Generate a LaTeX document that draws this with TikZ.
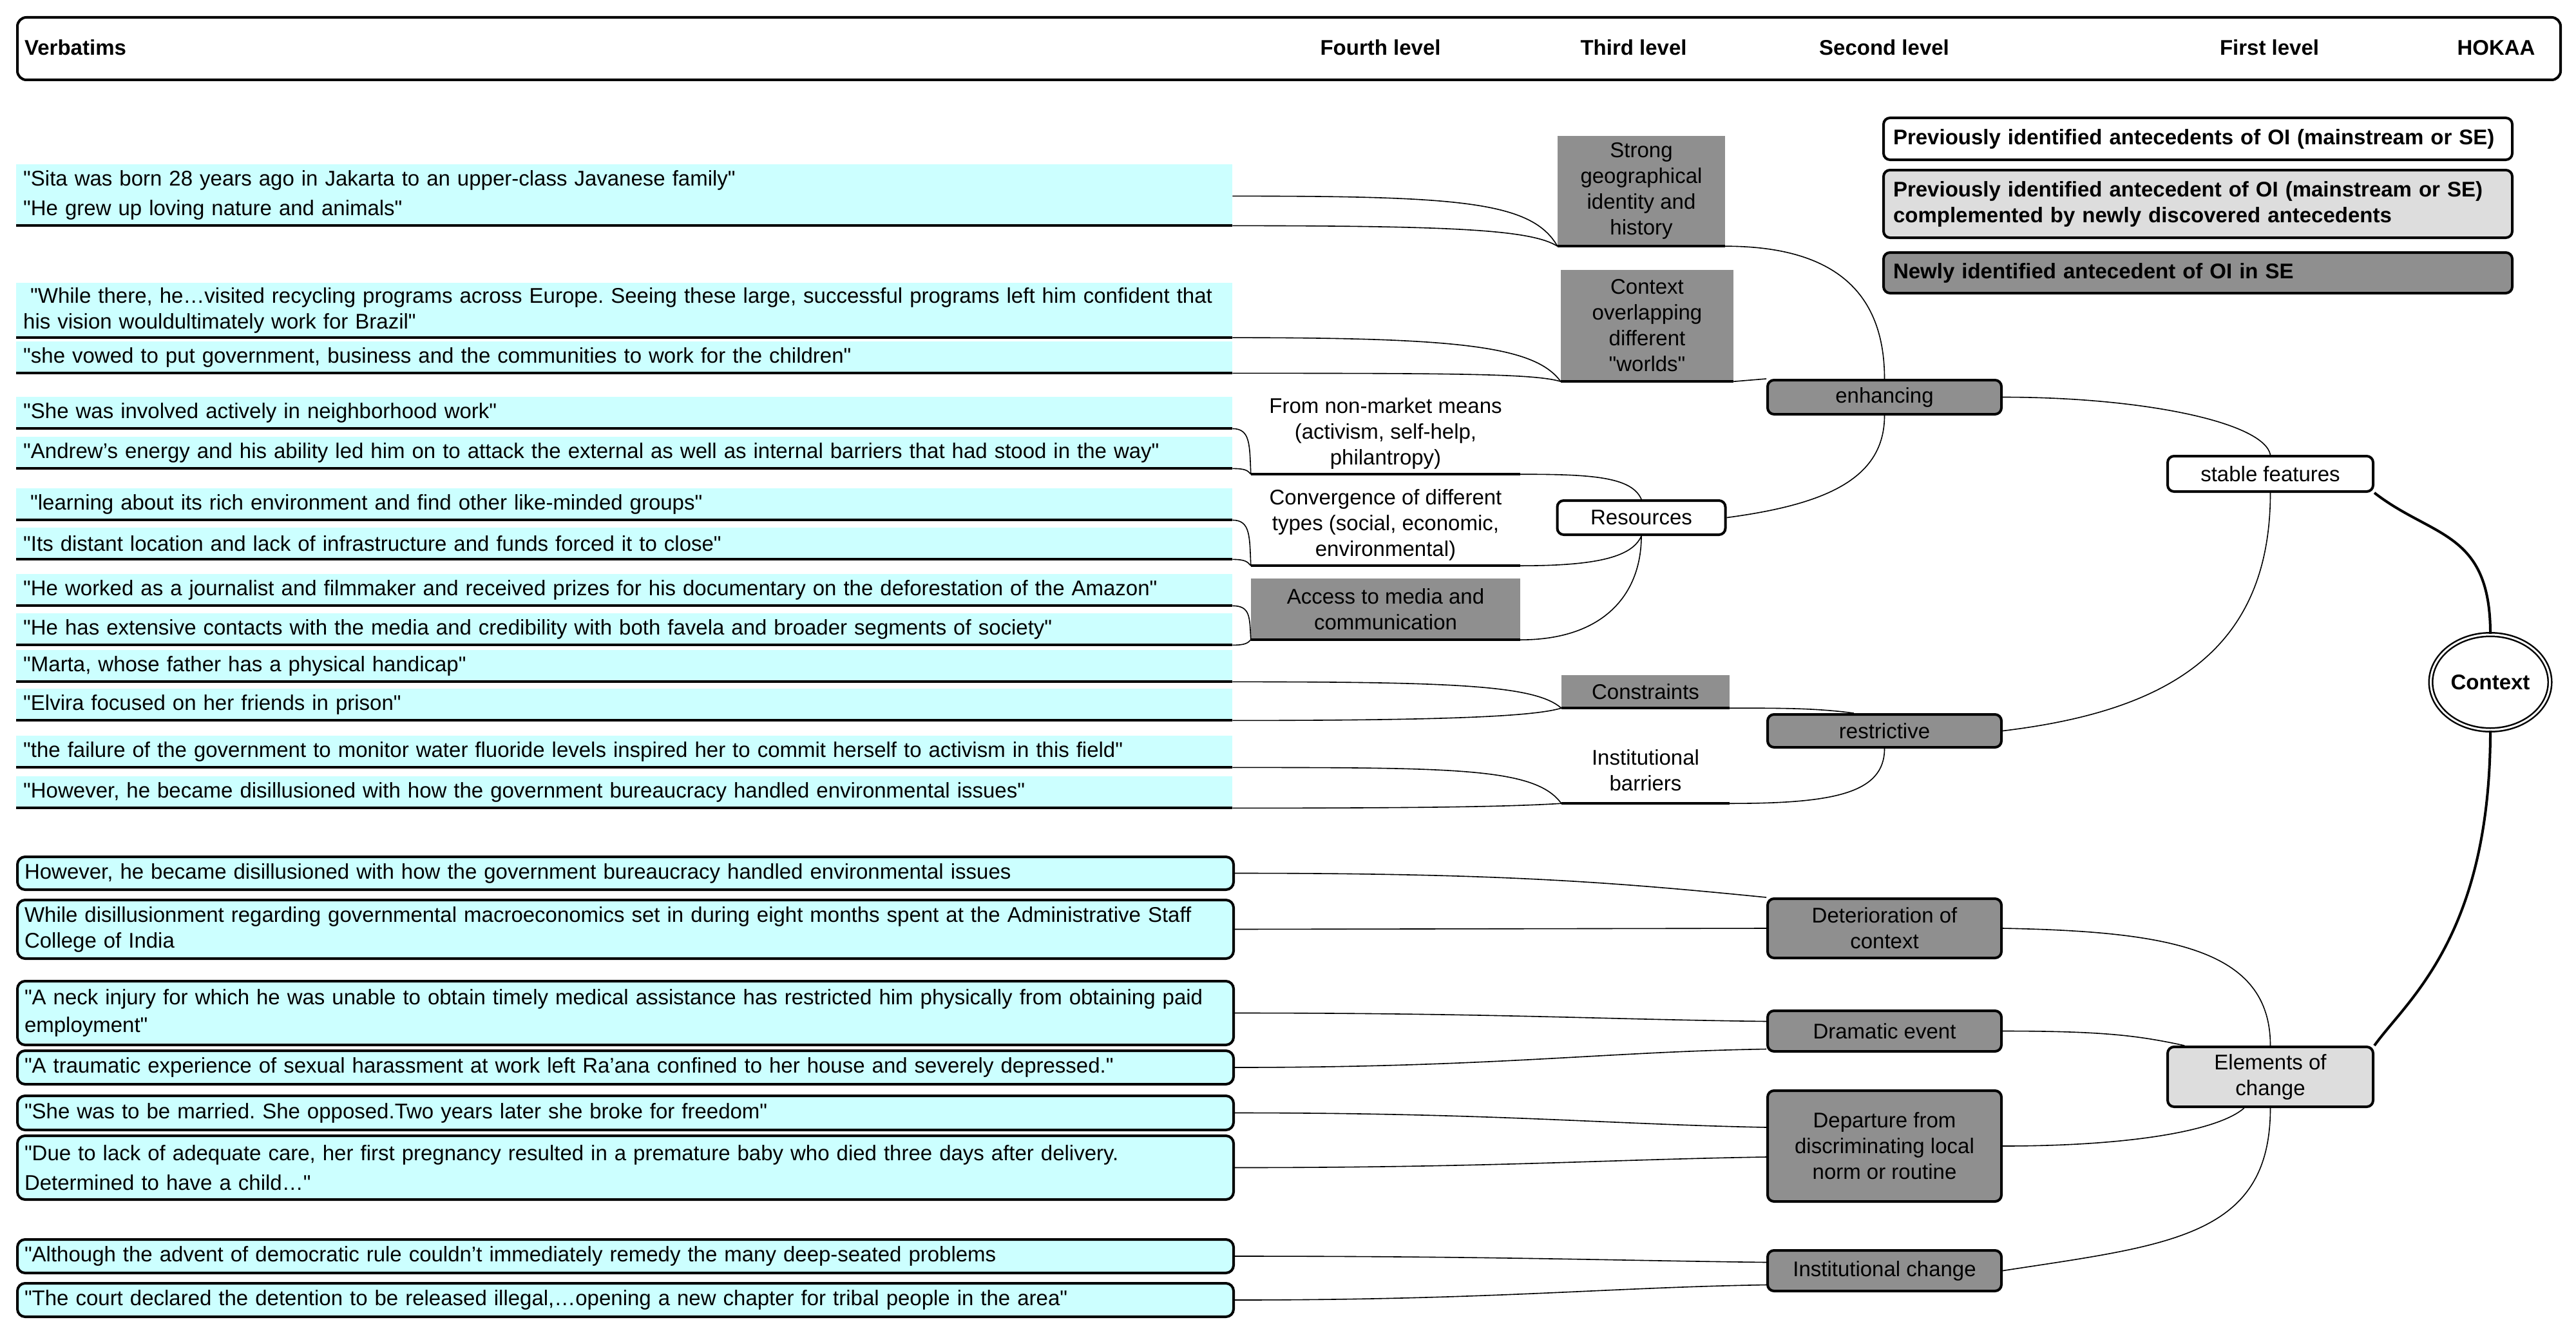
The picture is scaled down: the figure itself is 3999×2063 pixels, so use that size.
\documentclass[tikz,border=0pt]{standalone}
\usepackage{fontspec}
\setmainfont{Liberation Sans}[Ligatures=TeXOff]
\frenchspacing
\usetikzlibrary{positioning,shapes.geometric}
\definecolor{verbatimCyan}{RGB}{204,255,255}
\definecolor{newGray}{RGB}{143,143,143}
\definecolor{mixedGray}{RGB}{221,221,221}
\tikzstyle{mapText} = [font=\fontsize{33}{40}\selectfont]
\tikzstyle{mapBold} = [font=\fontsize{33}{40}\selectfont\bfseries]
\tikzstyle{underLine} = [line width=4pt]
\tikzstyle{linkLine} = [line width=1.6pt]
\tikzstyle{contextLine} = [line width=4pt]
\tikzstyle{forkStyle} = [mapText, fill=verbatimCyan, anchor=north west, text width=1866pt, inner xsep=11pt, inner ysep=7pt, minimum height=49pt, align=left]
\tikzstyle{bubbleStyle} = [forkStyle, draw, line width=4pt, rounded corners=12pt]
\tikzstyle{levelText} = [mapText, inner sep=0pt, align=center]
\tikzstyle{newBox} = [levelText, fill=newGray]
\tikzstyle{levelBubble} = [levelText, draw, line width=4pt, rounded corners=10pt]
\tikzstyle{keyBox} = [mapBold, draw, line width=4pt, rounded corners=10pt, anchor=north west, text width=946pt, inner xsep=15pt, inner ysep=0pt, align=left]
\newcommand{\forkVerbatim}[3]{\node[forkStyle] (#1) at (25,#2) {#3}; \draw[underLine] (#1.south west) -- (#1.south east);}
\newcommand{\bubbleVerbatim}[4]{\node[bubbleStyle, minimum height=#3] (#1) at (25,#2) {#4};}

\begin{document}
\begin{tikzpicture}[x=1pt, y=-1pt]
  \useasboundingbox (0,0) rectangle (3999,2063);

  % header row
  \node[draw, line width=4pt, rounded corners=14pt, anchor=north west, inner sep=0pt, minimum width=3948pt, minimum height=97pt] (header) at (25,25) {};
  \node[mapBold, anchor=west, inner sep=0pt] (hdVerbatims) at (38,74) {Verbatims};
  \node[mapBold, inner sep=0pt] (hdFourth) at (2143,74) {Fourth level};
  \node[mapBold, inner sep=0pt] (hdThird) at (2536,74) {Third level};
  \node[mapBold, inner sep=0pt] (hdSecond) at (2925,74) {Second level};
  \node[mapBold, inner sep=0pt] (hdFirst) at (3523,74) {First level};
  \node[mapBold, inner sep=0pt] (hdHokaa) at (3875,74) {HOKAA};

  % key
  \node[keyBox, minimum height=65pt] (keyOld) at (2922,181) {\mbox{Previously identified antecedents of OI (mainstream or SE)}};
  \node[keyBox, fill=mixedGray, minimum height=105pt] (keyMixed) at (2922,262) {\mbox{Previously identified antecedent of OI (mainstream or SE)}\\complemented by newly discovered antecedents};
  \node[keyBox, fill=newGray, minimum height=63pt] (keyNew) at (2922,390) {Newly identified antecedent of OI in SE};

  % verbatims, stable features
  \forkVerbatim{v1}{255}{"Sita was born 28 years ago in Jakarta to an upper-class Javanese family"}
  \forkVerbatim{v2}{301}{"He grew up loving nature and animals"}
  \forkVerbatim{v3}{439}{\mbox{~"While there, he…visited recycling programs across Europe. Seeing these large, successful programs left him confident that}\\his vision wouldultimately work for Brazil"}
  \forkVerbatim{v4}{530}{"she vowed to put government, business and the communities to work for the children"}
  \forkVerbatim{v5}{616}{"She was involved actively in neighborhood work"}
  \forkVerbatim{v6}{678}{"Andrew’s energy and his ability led him on to attack the external as well as internal barriers that had stood in the way"}
  \forkVerbatim{v7}{758}{~"learning about its rich environment and find other like-minded groups"}
  \forkVerbatim{v8}{819}{"Its distant location and lack of infrastructure and funds forced it to close"}
  \forkVerbatim{v9}{891}{"He worked as a journalist and filmmaker and received prizes for his documentary on the deforestation of the Amazon"}
  \forkVerbatim{v10}{952}{"He has extensive contacts with the media and credibility with both favela and broader segments of society"}
  \forkVerbatim{v11}{1009}{"Marta, whose father has a physical handicap"}
  \forkVerbatim{v12}{1069}{"Elvira focused on her friends in prison"}
  \forkVerbatim{v13}{1142}{"the failure of the government to monitor water fluoride levels inspired her to commit herself to activism in this field"}
  \forkVerbatim{v14}{1205}{"However, he became disillusioned with how the government bureaucracy handled environmental issues"}

  % verbatims, elements of change
  \bubbleVerbatim{d1}{1328}{51pt}{However, he became disillusioned with how the government bureaucracy handled environmental issues}
  \bubbleVerbatim{d2}{1395}{91pt}{\mbox{While disillusionment regarding governmental macroeconomics set in during eight months spent at the Administrative Staff}\\College of India}
  \bubbleVerbatim{d3}{1521}{99pt}{\mbox{"A neck injury for which he was unable to obtain timely medical assistance has restricted him physically from obtaining paid}\\[3pt]employment"}
  \bubbleVerbatim{d4}{1629}{52pt}{"A traumatic experience of sexual harassment at work left Ra’ana confined to her house and severely depressed."}
  \bubbleVerbatim{d5}{1699}{53pt}{"She was to be married. She opposed.Two years later she broke for freedom"}
  \bubbleVerbatim{d6}{1761}{99pt}{"Due to lack of adequate care, her first pregnancy resulted in a premature baby who died three days after delivery.\\[6pt]Determined to have a child…"}
  \bubbleVerbatim{d7}{1922}{52pt}{"Although the advent of democratic rule couldn’t immediately remedy the many deep-seated problems}
  \bubbleVerbatim{d8}{1990}{52pt}{"The court declared the detention to be released illegal,…opening a new chapter for tribal people in the area"}

  % fourth and third level
  \node[newBox, minimum width=260pt, minimum height=171pt] (geo) at (2548,296.5) {Strong\\geographical\\identity and\\history};
  \node[newBox, minimum width=268pt, minimum height=173pt] (ctx) at (2557,505.5) {Context\\overlapping\\different\\"worlds"};
  \node[levelText, minimum width=418pt, minimum height=126pt] (nm) at (2151,673) {From non-market means\\(activism, self-help,\\philantropy)};
  \node[levelText, minimum width=418pt, minimum height=126pt] (conv) at (2151,815) {Convergence of different\\types (social, economic,\\environmental)};
  \node[newBox, minimum width=418pt, minimum height=95pt] (media) at (2151,945.5) {Access to media and\\communication};
  \node[levelBubble, fill=white, minimum width=261pt, minimum height=53pt] (res) at (2548,803.5) {Resources};
  \node[newBox, minimum width=261pt, minimum height=51pt] (cons) at (2554.5,1073.5) {Constraints};
  \node[levelText, minimum width=261pt, minimum height=102pt] (inst) at (2554.5,1196) {Institutional\\barriers};
  \foreach \n in {geo,ctx,nm,conv,media,cons,inst} {
    \draw[underLine] (\n.south west) -- (\n.south east);
  }

  % second and first level
  \node[levelBubble, fill=newGray, minimum width=363pt, minimum height=53pt] (enh) at (2925.5,616.5) {enhancing};
  \node[levelBubble, fill=newGray, minimum width=363pt, minimum height=51pt] (rest) at (2925.5,1134.5) {restrictive};
  \node[levelBubble, fill=newGray, minimum width=363pt, minimum height=92pt] (det) at (2925.5,1441) {Deterioration of\\context};
  \node[levelBubble, fill=newGray, minimum width=363pt, minimum height=63pt] (dram) at (2925.5,1600.5) {Dramatic event};
  \node[levelBubble, fill=newGray, minimum width=363pt, minimum height=172pt] (dep) at (2925.5,1779) {Departure from\\discriminating local\\norm or routine};
  \node[levelBubble, fill=newGray, minimum width=363pt, minimum height=63pt] (ichg) at (2925.5,1972.5) {Institutional change};
  \node[levelBubble, fill=white, minimum width=319pt, minimum height=55pt] (sf) at (3524.5,735.5) {stable features};
  \node[levelBubble, fill=mixedGray, minimum width=319pt, minimum height=93pt] (elem) at (3524.5,1671.5) {Elements of\\change};
  \node[mapBold, draw, ellipse, double, line width=2.5pt, double distance=3pt, minimum width=185pt, minimum height=148pt, inner sep=0pt] (context) at (3866,1059) {Context};

  % enhancing branch
  \draw[linkLine] (v1.south east) .. controls +(350,0) and +(-40,-70) .. (geo.south west);
  \draw[linkLine] (v2.south east) .. controls +(350,0) and +(-40,-25) .. (geo.south west);
  \draw[linkLine] (v3.south east) .. controls +(350,0) and +(-40,-55) .. (ctx.south west);
  \draw[linkLine] (v4.south east) .. controls +(350,0) and +(-40,-12) .. (ctx.south west);
  \draw[linkLine] (v5.south east) .. controls +(28,0) and +(-2,-45) .. (nm.south west);
  \draw[linkLine] (v6.south east) .. controls +(20,0) and +(-5,-6) .. (nm.south west);
  \draw[linkLine] (v7.south east) .. controls +(28,0) and +(-2,-45) .. (conv.south west);
  \draw[linkLine] (v8.south east) .. controls +(20,0) and +(-5,-6) .. (conv.south west);
  \draw[linkLine] (v9.south east) .. controls +(28,0) and +(-2,-35) .. (media.south west);
  \draw[linkLine] (v10.south east) .. controls +(20,0) and +(-5,5) .. (media.south west);
  \draw[linkLine] (nm.south east) .. controls +(110,0) and +(-15,-35) .. (res.north);
  \draw[linkLine] (conv.south east) .. controls +(110,0) and +(-15,35) .. (res.south);
  \draw[linkLine] (media.south east) .. controls +(130,0) and +(0,90) .. (res.south);
  \draw[linkLine] (geo.south east) .. controls +(150,0) and +(0,-150) .. (enh.north);
  \draw[linkLine] (ctx.south east) -- (enh.north west);
  \draw[linkLine] (res.east) .. controls +(150,-20) and +(0,100) .. (enh.south);
  \draw[linkLine] (enh.east) .. controls +(220,0) and +(-10,-50) .. (sf.north);

  % restrictive branch
  \draw[linkLine] (v11.south east) .. controls +(350,0) and +(-40,-35) .. (cons.south west);
  \draw[linkLine] (v12.south east) .. controls +(350,0) and +(-40,12) .. (cons.south west);
  \draw[linkLine] (v13.south east) .. controls +(350,0) and +(-40,-55) .. (inst.south west);
  \draw[linkLine] (v14.south east) .. controls +(300,0) and +(-80,5) .. (inst.south west);
  \draw[linkLine] (cons.south east) .. controls +(80,0) and +(-60,-8) .. (rest.150);
  \draw[linkLine] (inst.south east) .. controls +(160,0) and +(0,70) .. (rest.south);
  \draw[linkLine] (rest.east) .. controls +(250,-30) and +(0,250) .. (sf.south);

  % elements of change branch
  \draw[linkLine] (d1.east) .. controls +(400,0) and +(-250,-25) .. (det.north west);
  \draw[linkLine] (d2.east) -- (det.west);
  \draw[linkLine] (d3.east) .. controls +(400,0) and +(-250,-3) .. ([yshift=15pt]dram.west);
  \draw[linkLine] (d4.east) .. controls +(400,0) and +(-250,4) .. ([yshift=-28pt]dram.west);
  \draw[linkLine] (d5.east) .. controls +(400,0) and +(-250,-5) .. ([yshift=29pt]dep.west);
  \draw[linkLine] (d6.east) .. controls +(400,0) and +(-250,4) .. ([yshift=-17pt]dep.west);
  \draw[linkLine] (d7.east) .. controls +(400,0) and +(-250,-3) .. ([yshift=13pt]ichg.west);
  \draw[linkLine] (d8.east) .. controls +(400,0) and +(-250,4) .. ([yshift=-22pt]ichg.west);
  \draw[linkLine] (det.east) .. controls +(260,5) and +(0,-150) .. (elem.north);
  \draw[linkLine] (dram.east) .. controls +(160,0) and +(-70,-15) .. (elem.160);
  \draw[linkLine] (dep.east) .. controls +(200,0) and +(-40,35) .. (elem.230);
  \draw[linkLine] (ichg.east) .. controls +(260,-40) and +(0,200) .. (elem.south);

  % context
  \draw[contextLine] (sf.south east) .. controls +(90,70) and +(0,-160) .. (context.north);
  \draw[contextLine] (context.south) .. controls +(0,320) and +(50,-70) .. (elem.north east);
\end{tikzpicture}
\end{document}
